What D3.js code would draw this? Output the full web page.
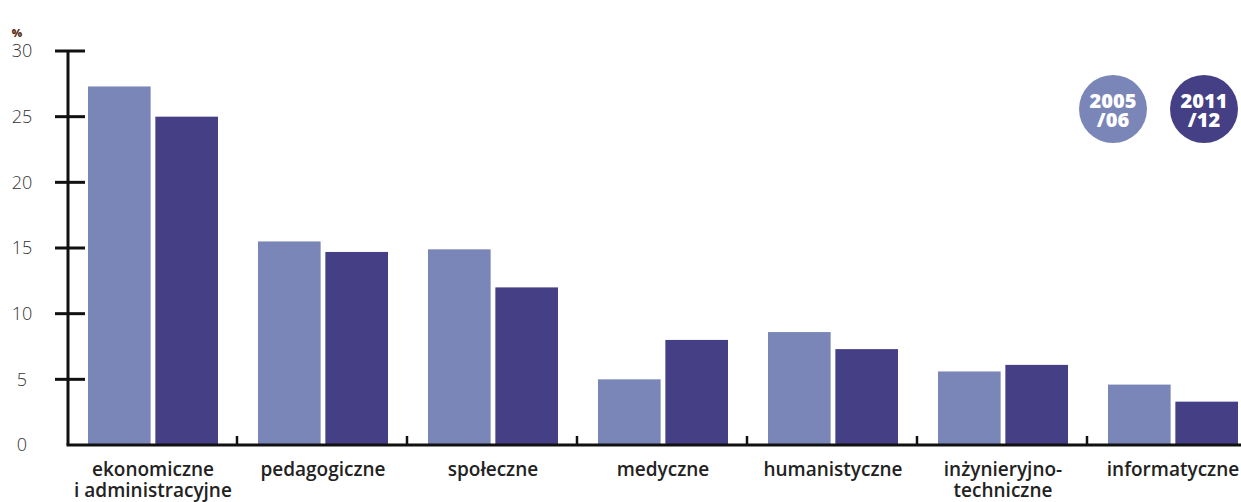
<!DOCTYPE html>
<html>
<head>
<meta charset="utf-8">
<script src="https://cdn.jsdelivr.net/npm/d3@7"></script>
<style>
  body { margin: 0; background: #fff; }
  .tick-label { font-family: "Open Sans", sans-serif; font-weight: 300; font-size: 18px; fill: #333; }
  .cat-label { font-family: "Open Sans", sans-serif; font-weight: 600; font-size: 19px; fill: #222; }
  .legend-text { font-family: "Open Sans", sans-serif; font-weight: 800; font-size: 20px; fill: #fff; }
</style>
</head>
<body>
<div id="chart"></div>
<script>
const categories = ["ekonomiczne|i administracyjne", "pedagogiczne", "społeczne", "medyczne", "humanistyczne", "inżynieryjno-|techniczne", "informatyczne"];
const series = ["2005/06", "2011/12"];
const values0506 = [27.3, 15.5, 14.9, 5.0, 8.6, 5.6, 4.6];
const values1112 = [25.0, 14.7, 12.0, 8.0, 7.3, 6.1, 3.3];
const yTicks = [0, 5, 10, 15, 20, 25, 30];
const legendLines = [["2005", "/06"], ["2011", "/12"]];
const colors = ["#7b86b8", "#453f85"];

const W = 1241, H = 502;
const x0 = 68, yBottom = 445, yTop = 51, step = 170;

const svg = d3.select("#chart").append("svg")
  .attr("width", W).attr("height", H);

const xScale = d3.scaleBand()
  .domain(categories)
  .range([x0, x0 + step * categories.length])
  .paddingInner(0).paddingOuter(0);

const xSub = d3.scaleBand()
  .domain(series)
  .range([20, 20 + 130])
  .paddingInner(0.07);

const yScale = d3.scaleLinear().domain([0, 30]).range([yBottom, yTop]);

// bars
const data = categories.map((c, i) => ({cat: c, vals: [values0506[i], values1112[i]]}));
const groups = svg.selectAll("g.grp")
  .data(data)
  .enter().append("g")
  .attr("class", "grp")
  .attr("transform", d => "translate(" + xScale(d.cat) + ",0)");

groups.selectAll("rect")
  .data(d => d.vals.map((v, j) => ({s: series[j], v: v, j: j})))
  .enter().append("rect")
  .attr("x", d => xSub(d.s))
  .attr("width", xSub.bandwidth())
  .attr("y", d => yScale(d.v))
  .attr("height", d => yBottom - yScale(d.v))
  .style("fill", d => colors[d.j]);

// y axis
svg.append("line")
  .attr("x1", x0).attr("x2", x0)
  .attr("y1", yScale(30)).attr("y2", yBottom)
  .attr("stroke", "#111").attr("stroke-width", 3);

svg.selectAll("line.ytick")
  .data(yTicks.filter(d => d > 0))
  .enter().append("line")
  .attr("class", "ytick")
  .attr("x1", x0 - 13).attr("x2", x0 + 17)
  .attr("y1", d => yScale(d)).attr("y2", d => yScale(d))
  .attr("stroke", "#111").attr("stroke-width", 3);

svg.selectAll("text.ylab")
  .data(yTicks)
  .enter().append("text")
  .attr("class", "tick-label")
  .attr("x", 22)
  .attr("y", d => yScale(d))
  .attr("dy", "0.36em")
  .attr("text-anchor", "middle")
  .text(d => d);

svg.append("text")
  .attr("x", 17).attr("y", 37)
  .attr("text-anchor", "middle")
  .style("font-family", "Open Sans, sans-serif")
  .style("font-weight", 800)
  .style("font-size", "11px")
  .style("fill", "#5a2a12")
  .text("%");

// x axis
svg.append("line")
  .attr("x1", x0 - 1.5).attr("x2", W)
  .attr("y1", yBottom).attr("y2", yBottom)
  .attr("stroke", "#111").attr("stroke-width", 3);

svg.selectAll("line.xtick")
  .data(categories.slice(1))
  .enter().append("line")
  .attr("class", "xtick")
  .attr("x1", d => xScale(d) - 1).attr("x2", d => xScale(d) - 1)
  .attr("y1", yBottom - 9).attr("y2", yBottom)
  .attr("stroke", "#111").attr("stroke-width", 2.5);

const labels = svg.selectAll("text.cat")
  .data(categories)
  .enter().append("text")
  .attr("class", "cat-label")
  .attr("text-anchor", "middle")
  .attr("x", d => xScale(d) + xScale.bandwidth() / 2)
  .attr("y", 476);

labels.selectAll("tspan")
  .data(d => d.split("|"))
  .enter().append("tspan")
  .attr("x", function() { return d3.select(this.parentNode).attr("x"); })
  .attr("dy", (d, i) => i === 0 ? 0 : 21)
  .text(d => d);

// legend
const legend = svg.selectAll("g.legend")
  .data(series)
  .enter().append("g")
  .attr("class", "legend")
  .attr("transform", (d, i) => "translate(" + (1113 + i * 91) + ",109)");

legend.append("circle")
  .attr("r", 34)
  .style("fill", (d, i) => colors[i]);

legend.each(function(d, i) {
  const g = d3.select(this);
  legendLines[i].forEach((t, k) => {
    g.append("text")
      .attr("class", "legend-text")
      .attr("text-anchor", "middle")
      .attr("y", k === 0 ? -1 : 18)
      .text(t);
  });
});
</script>
</body>
</html>
